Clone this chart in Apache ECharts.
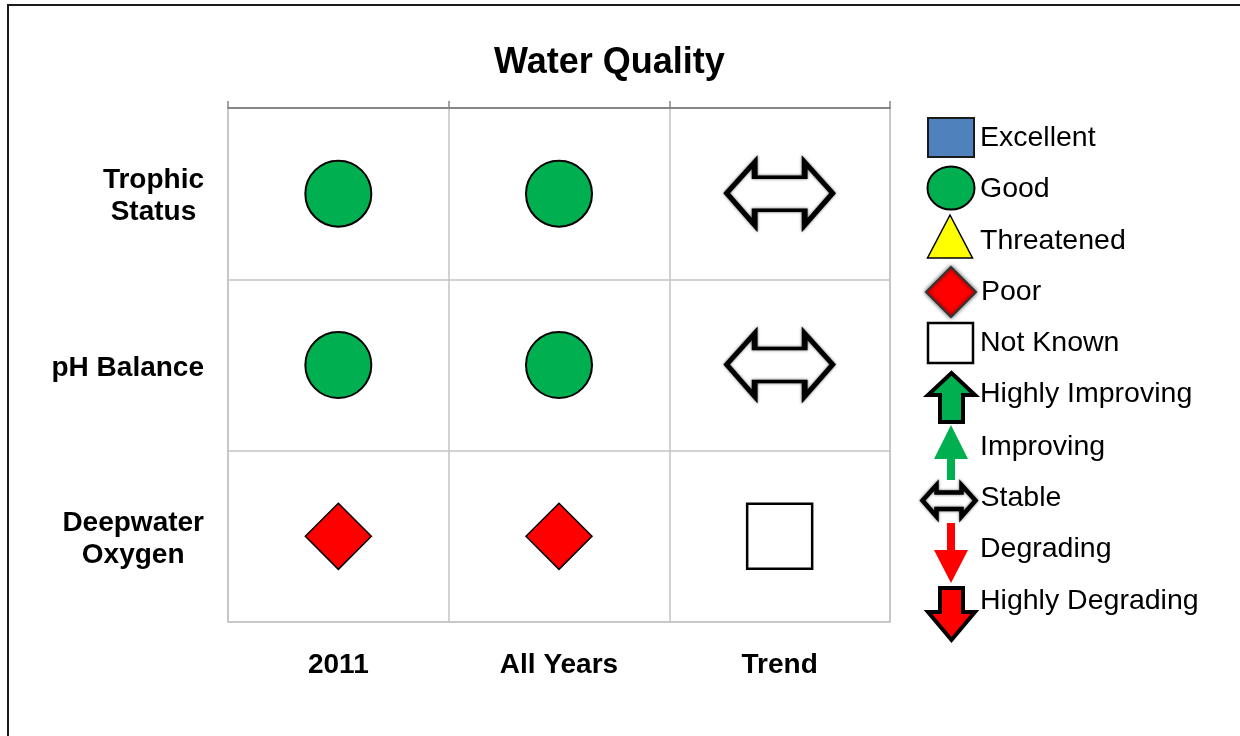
<!DOCTYPE html>
<html><head><meta charset="utf-8">
<script src="https://cdn.jsdelivr.net/npm/echarts@6/dist/echarts.min.js"></script>
<style>html,body{margin:0;padding:0;background:#fff}#c{width:1240px;height:736px}</style>
</head><body><div id="c"></div>
<script>
// ---- data ----
const chartTitle = 'Water Quality';
const columns = ['2011', 'All Years', 'Trend'];
const rows = ['Trophic\nStatus', 'pH Balance', 'Deepwater\nOxygen'];
const statusLevels = ['Excellent', 'Good', 'Threatened', 'Poor', 'Not Known',
  'Highly Improving', 'Improving', 'Stable', 'Degrading', 'Highly Degrading'];
const status2011 = ['Good', 'Good', 'Poor'];
const statusAllYears = ['Good', 'Good', 'Poor'];
const statusTrend = ['Stable', 'Stable', 'Not Known'];

// ---- styles ----
const FONT = '"Liberation Sans", Arial, sans-serif';
const P_UP_BIG = 'path://M23.5,0 L47,22 L35,22 L35,49 L12,49 L12,22 L0,22 Z';
const P_UP = 'path://M17,0 L34,34 L21,34 L21,55 L13,55 L13,34 L0,34 Z';
const P_STABLE = 'path://M0,31 L28,0 L28,15 L78,15 L78,0 L106,31 L78,63 L78,48 L28,48 L28,63 Z';
const P_DOWN = 'path://M13,0 L21,0 L21,27 L34,27 L17,60 L0,27 L13,27 Z';
const P_DOWN_BIG = 'path://M12,0 L35,0 L35,24 L47,24 L23.5,52 L0,24 L12,24 Z';
const P_ELLIPSE = 'path://M0,21.5 A23.5,21.5 0 1 1 47,21.5 A23.5,21.5 0 1 1 0,21.5 Z';
const STYLE = {
  'Excellent': { symbol: 'rect', size: 65, item: { color: '#4f81bd', borderColor: '#1a1a1a', borderWidth: 2 } },
  'Good': { symbol: 'circle', legendIcon: P_ELLIPSE, size: 66, item: { color: '#00b050', borderColor: '#000', borderWidth: 2 } },
  'Threatened': { symbol: 'triangle', size: 66, item: { color: '#ffff00', borderColor: '#000', borderWidth: 1.5 } },
  'Poor': { symbol: 'diamond', size: 66, item: { color: '#ff0000', borderColor: '#000', borderWidth: 1.5 },
            legendItem: { color: '#ff0000', borderColor: '#333', borderWidth: 2, shadowBlur: 4, shadowColor: 'rgba(0,0,0,0.6)' } },
  'Not Known': { symbol: 'rect', size: 65, item: { color: '#ffffff', borderColor: '#000', borderWidth: 2.5 } },
  'Highly Improving': { symbol: P_UP_BIG, size: [47, 49], item: { color: '#00b050', borderColor: '#000', borderWidth: 4 } },
  'Improving': { symbol: P_UP, size: [34, 55], item: { color: '#00b050', borderWidth: 0 } },
  'Stable': { symbol: P_STABLE, size: [106, 63], item: { color: '#ffffff', borderColor: '#000', borderWidth: 4.5, shadowBlur: 3, shadowColor: 'rgba(0,0,0,0.6)' } },
  'Degrading': { symbol: P_DOWN, size: [34, 60], item: { color: '#ff0000', borderWidth: 0 } },
  'Highly Degrading': { symbol: P_DOWN_BIG, size: [47, 52], item: { color: '#ff0000', borderColor: '#000', borderWidth: 4 } }
};
// legend icon geometry (layout only): [width, height, centerX, centerY, text cap-centre Y]
const LEG = {
  'Excellent': [46, 39, 951, 137.5, 136.5],
  'Good': [47, 43, 951, 188, 188],
  'Threatened': [45, 43, 950, 236.5, 239.5],
  'Poor': [50, 50, 951, 292, 291],
  'Not Known': [45, 40, 950.5, 343, 342],
  'Highly Improving': [47, 49, 951.5, 397.5, 393],
  'Improving': [34, 55, 951, 452.5, 446],
  'Stable': [53, 32, 949, 501, 497],
  'Degrading': [34, 60, 951, 553, 548],
  'Highly Degrading': [47, 52, 951.5, 614, 600]
};

const matrix = [status2011, statusAllYears, statusTrend];
const series = statusLevels.map(s => {
  const data = [];
  matrix.forEach((col, ci) => col.forEach((v, ri) => { if (v === s) data.push([columns[ci], rows[ri]]); }));
  return {
    name: s, type: 'scatter', data,
    symbol: STYLE[s].symbol, symbolSize: STYLE[s].size,
    itemStyle: Object.assign({ opacity: 1 }, STYLE[s].item), emphasis: { disabled: true }
  };
});

const LEG_FS = 28.5;
const legends = statusLevels.map(s => {
  const [w, h, cx, cy, ty] = LEG[s];
  const st = STYLE[s].legendItem || STYLE[s].item;
  const bw = st.borderWidth || 0;
  const anchor = ty + 1.2;
  const d = cy - anchor;
  const pl = Math.max(0, 980 - (cx + w / 2 + 5));
  const pad = [d < 0 ? -2 * d : 0, 0, d > 0 ? 2 * d : 0, pl];
  const tokenStyle = { fontFamily: FONT, fontSize: LEG_FS, color: '#000', padding: pad };
  return {
    show: true, orient: 'vertical', left: cx - w / 2 - bw / 2, top: cy - h / 2 - bw / 2, padding: 0,
    itemWidth: w, itemHeight: h, selectedMode: false, symbolKeepAspect: true,
    formatter: n => '{t|' + n + '}',
    textStyle: { fontFamily: FONT, fontSize: LEG_FS, color: '#000', rich: { t: tokenStyle } },
    data: [{ name: s, icon: STYLE[s].legendIcon || STYLE[s].symbol, itemStyle: Object.assign({ opacity: 1 }, st) }]
  };
});

const labelFont = { fontFamily: FONT, fontSize: 28, fontWeight: 'bold', color: '#000' };

const chart = echarts.init(document.getElementById('c'), null, { renderer: 'canvas' });
chart.setOption({
  animation: false,
  backgroundColor: '#fff',
  title: {
    text: chartTitle, left: 489, top: 40,
    textStyle: { fontFamily: FONT, fontSize: 36, fontWeight: 'bold', color: '#000' }
  },
  graphic: [{
    type: 'rect', silent: true, z: -10,
    shape: { x: 8, y: 5, width: 1400, height: 900 },
    style: { fill: 'none', stroke: '#1a1a1a', lineWidth: 2 }
  }],
  grid: { left: 228, right: 350, top: 108, bottom: 114, show: true, borderColor: '#c3c3c3', borderWidth: 1.5, backgroundColor: 'transparent' },
  legend: legends,
  xAxis: [{
    type: 'category', data: columns, position: 'bottom',
    axisLine: { show: false }, axisTick: { show: false },
    axisLabel: Object.assign({ margin: 29, interval: 0 }, labelFont),
    splitLine: { show: true, interval: 0, lineStyle: { color: '#c3c3c3', width: 1.5 } }
  }, {
    type: 'category', data: columns, position: 'top',
    axisLine: { show: true, lineStyle: { color: '#868686', width: 2 } },
    axisTick: { show: true, length: 7, interval: 0, lineStyle: { color: '#868686', width: 1.5 } },
    axisLabel: { show: false }, splitLine: { show: false }
  }],
  yAxis: {
    type: 'category', data: rows, inverse: true,
    axisLine: { show: false }, axisTick: { show: false },
    axisLabel: Object.assign({
      margin: 24, interval: 0, align: 'right', lineHeight: 32, padding: [6, 0, 0, 0],
      formatter: v => v.split('\n').map(l => '{c|' + l + '}').join('\n'),
      rich: { c: Object.assign({ align: 'center', lineHeight: 32 }, labelFont) }
    }, labelFont),
    splitLine: { show: true, interval: 0, lineStyle: { color: '#c3c3c3', width: 1.5 } }
  },
  series
});
</script></body></html>
